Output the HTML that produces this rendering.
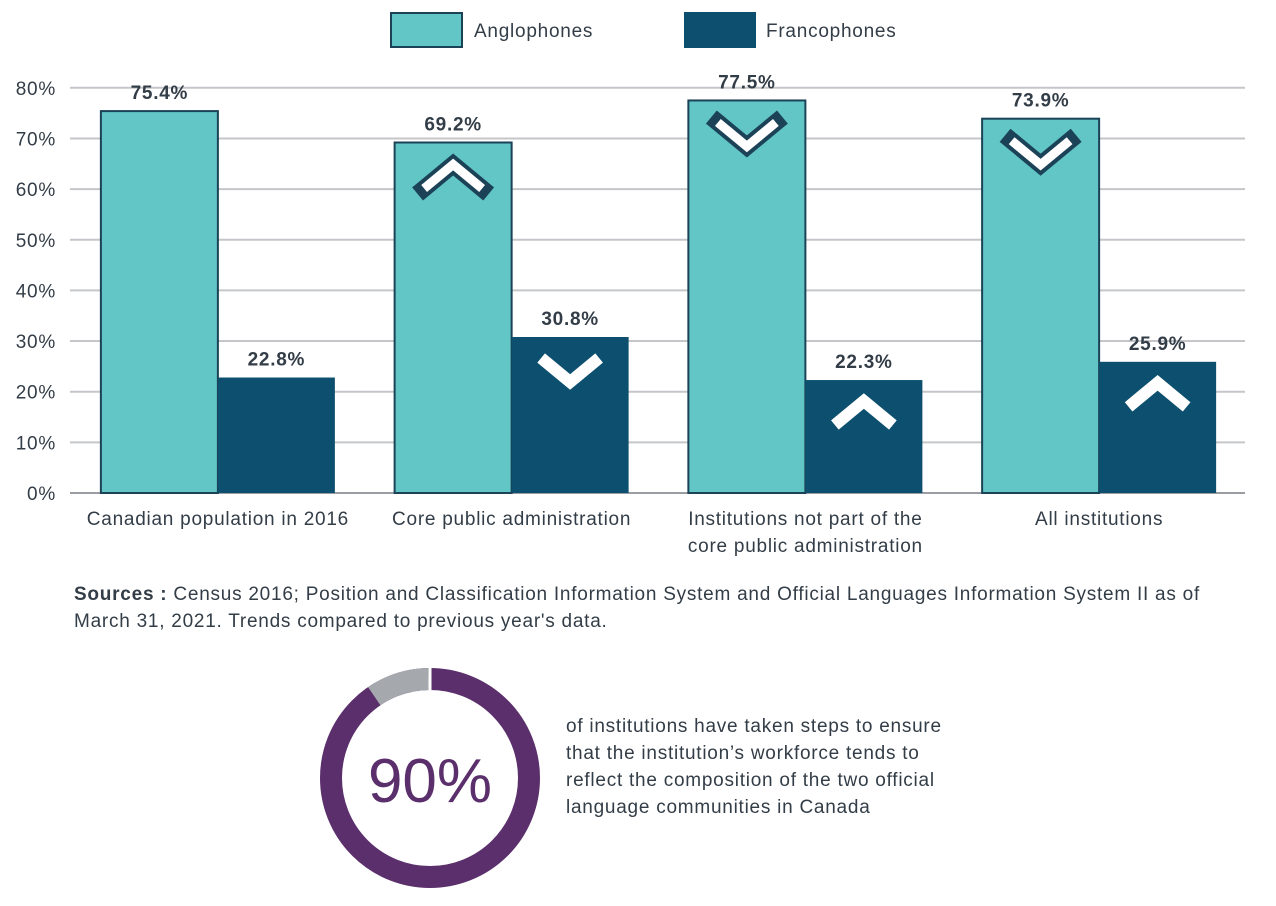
<!DOCTYPE html>
<html><head><meta charset="utf-8"><style>
body{margin:0;background:#fff;}
svg text{font-family:"Liberation Sans",sans-serif;letter-spacing:0.75px;}
</style></head><body>
<svg width="1276" height="901" xmlns="http://www.w3.org/2000/svg" id="chart">
<g id="legend">
 <rect x="391" y="13" width="71" height="34" fill="#62c6c6" stroke="#1b4257" stroke-width="2"/>
 <text x="474" y="37" font-size="19" fill="#333d47">Anglophones</text>
 <rect x="684" y="12" width="72" height="36" fill="#0c4f6e"/>
 <text x="766" y="37" font-size="19" fill="#333d47">Francophones</text>
</g>
<g id="grid"></g><g id="bars"></g><g id="labels"></g>
<g font-size="19" fill="#333d47">
 <text x="74" y="600" textLength="1126" lengthAdjust="spacing"><tspan font-weight="bold">Sources :</tspan> Census 2016; Position and Classification Information System and Official Languages Information System II as of</text>
 <text x="74" y="627">March 31, 2021. Trends compared to previous year's data.</text>
</g>
<g>
 <circle cx="430" cy="778" r="99" fill="none" stroke="#5a2f6b" stroke-width="22"/>
 <path id="graySeg" fill="none" stroke="#a5a9ad" stroke-width="22"/>
 <line x1="430" y1="667" x2="430" y2="690" stroke="#fff" stroke-width="3"/>
 <text x="430" y="802" text-anchor="middle" font-size="62" fill="#5a2f6b" style="letter-spacing:0">90%</text>
</g>
<g font-size="19" fill="#333d47">
 <text x="566" y="732">of institutions have taken steps to ensure</text>
 <text x="566" y="759">that the institution’s workforce tends to</text>
 <text x="566" y="786">reflect the composition of the two official</text>
 <text x="566" y="813">language communities in Canada</text>
</g>
</svg>
<script>
const categories=[["Canadian population in 2016"],["Core public administration"],["Institutions not part of the","core public administration"],["All institutions"]];
const anglo=[75.4,69.2,77.5,73.9];
const franco=[22.8,30.8,22.3,25.9];
const angloTrend=[0,1,-1,-1];
const francoTrend=[0,-1,1,1];
const yTicks=[0,10,20,30,40,50,60,70,80];
const donutValue=90;
const NS="http://www.w3.org/2000/svg";
const L=70,R=1245,y0=493,pxPer=5.065,bw=117;
const y=v=>y0-v*pxPer;
const gw=(R-L)/categories.length;
const cx=i=>L+gw*(i+0.5)+1;
function mk(tag,attrs,parent,txt){const e=document.createElementNS(NS,tag);for(const k in attrs)e.setAttribute(k,attrs[k]);if(txt!==undefined)e.textContent=txt;parent.appendChild(e);return e;}
const grid=document.getElementById('grid'),bars=document.getElementById('bars'),labels=document.getElementById('labels');
yTicks.forEach(t=>{
 const ln=mk('line',{x1:L,x2:R,y1:y(t),y2:y(t),stroke:t===0?'#9a9ea3':'#c4c6c9','stroke-width':2},grid);
 
 
 const tx=mk('text',{x:56,y:y(t)+7,'text-anchor':'end','font-size':19,fill:'#333d47'},grid,t+'%');
 
 
});
function chevron(xc,yc,dir,outlined){
 const w=29,h=dir*24;
 const d=`M${xc-w},${yc+h/2} L${xc},${yc-h/2} L${xc+w},${yc+h/2}`;
 if(outlined) mk('path',{d,fill:'none',stroke:'#1b4257','stroke-width':17,'stroke-linecap':'square','stroke-linejoin':'miter'},bars);
 const p=mk('path',{d,fill:'none',stroke:'#fff','stroke-width':outlined?9:12,'stroke-linecap':'butt','stroke-linejoin':'miter'},bars);
 
 
}
categories.forEach((c,i)=>{
 const c0=cx(i);
 const a=mk('rect',{x:c0-bw,y:y(anglo[i]),width:bw,height:y0-y(anglo[i]),fill:'#62c6c6',stroke:'#1b4257','stroke-width':2},bars);
 
 
 const f=mk('rect',{x:c0,y:y(franco[i]),width:bw,height:y0-y(franco[i]),fill:'#0c4f6e'},bars);
 
 
 if(angloTrend[i]) chevron(c0-bw/2,y(anglo[i])+34,angloTrend[i],true);
 if(francoTrend[i]) chevron(c0+bw/2,y(franco[i])+33,francoTrend[i],false);
 const la=mk('text',{x:c0-bw/2,y:y(anglo[i])-12,'text-anchor':'middle','font-size':19,'font-weight':'bold',fill:'#333d47'},labels,anglo[i].toFixed(1)+'%');
 
 
 const lf=mk('text',{x:c0+bw/2,y:y(franco[i])-12,'text-anchor':'middle','font-size':19,'font-weight':'bold',fill:'#333d47'},labels,franco[i].toFixed(1)+'%');
 
 
 c.forEach((line,j)=>{
  const t=mk('text',{x:c0,y:525+j*27,'text-anchor':'middle','font-size':19,fill:'#333d47'},labels,line);
  
  
 });
});
const frac=(100-donutValue)/100, r=99, dcx=430, dcy=778;
const ang=-Math.PI/2-frac*2*Math.PI+0.03;
const sx=dcx+r*Math.cos(-Math.PI/2-0.015), sy=dcy+r*Math.sin(-Math.PI/2-0.015);
const ex=dcx+r*Math.cos(ang), ey=dcy+r*Math.sin(ang);
document.getElementById('graySeg').setAttribute('d',`M${sx},${sy} A${r},${r} 0 0 0 ${ex},${ey}`);
</script>
</body></html>
